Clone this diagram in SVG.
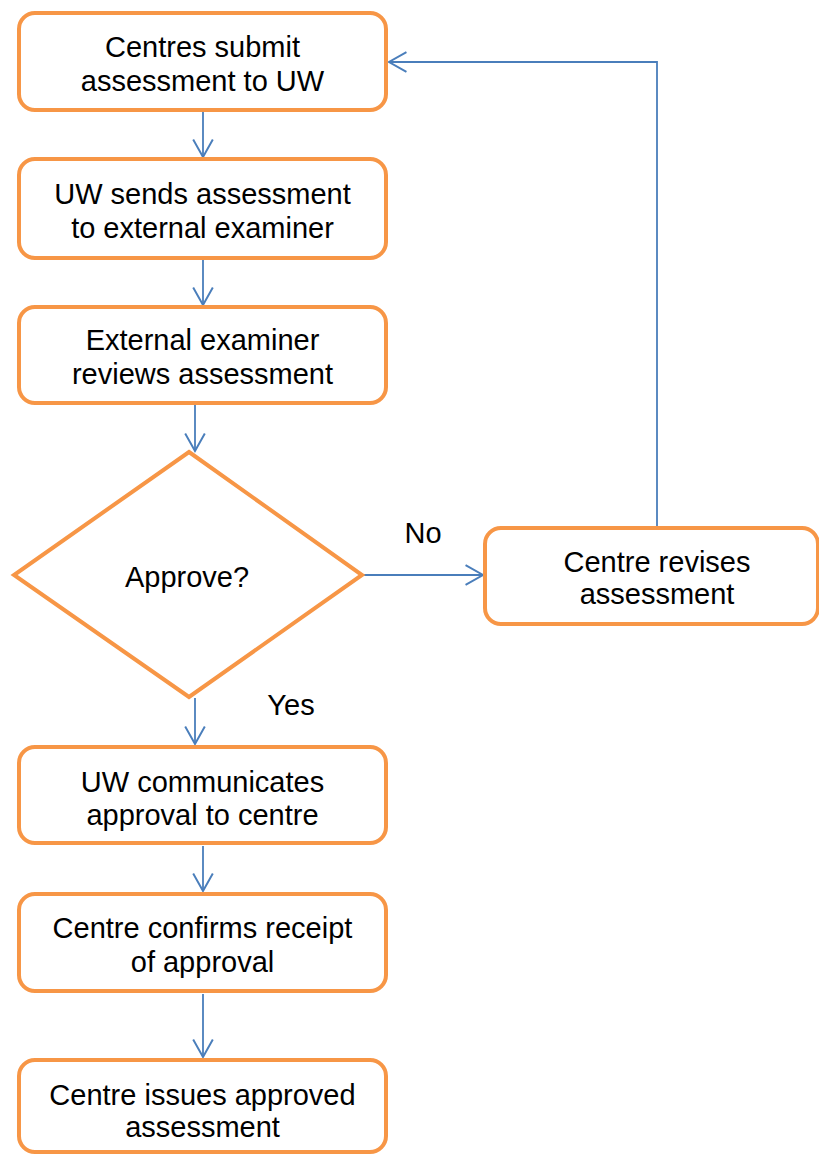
<svg xmlns="http://www.w3.org/2000/svg" width="819" height="1155" viewBox="0 0 819 1155">
<style>
.box{fill:#fff;stroke:#F79646;stroke-width:4}
.t{font-family:"Liberation Sans",Arial,sans-serif;font-size:29px;fill:#000;text-anchor:middle}
.c{fill:none;stroke:#4A7EBB;stroke-width:1.8}
</style>
<defs>
<marker id="ah" markerUnits="userSpaceOnUse" markerWidth="24" markerHeight="24" viewBox="-18 -11 20 22" refX="0" refY="0" orient="auto">
<path d="M-16,-9 L0,0 L-16,9" fill="none" stroke="#4A7EBB" stroke-width="1.8"/>
</marker>
</defs>
<rect width="819" height="1155" fill="#fff"/>
<g id="connectors">
<line class="c" x1="203" y1="112" x2="203" y2="157" marker-end="url(#ah)"/>
<line class="c" x1="203" y1="260" x2="203" y2="305" marker-end="url(#ah)"/>
<line class="c" x1="195" y1="405" x2="195" y2="451" marker-end="url(#ah)"/>
<line class="c" x1="195" y1="698" x2="195" y2="744" marker-end="url(#ah)"/>
<line class="c" x1="203" y1="846" x2="203" y2="891" marker-end="url(#ah)"/>
<line class="c" x1="203" y1="994" x2="203" y2="1057" marker-end="url(#ah)"/>
<line class="c" x1="363" y1="575" x2="483" y2="575" marker-end="url(#ah)"/>
<polyline class="c" points="657,526 657,62 389,62" marker-end="url(#ah)"/>
<text class="t" x="423" y="543">No</text>
<text class="t" x="291" y="715">Yes</text>
</g>
<g id="n1">
<rect class="box" x="19" y="13" width="367" height="97" rx="16"/>
<text class="t" x="202.5" y="57">Centres submit</text>
<text class="t" x="202.5" y="91">assessment to UW</text>
</g>
<g id="n2">
<rect class="box" x="19" y="159" width="367" height="99" rx="16"/>
<text class="t" x="202.5" y="204">UW sends assessment</text>
<text class="t" x="202.5" y="238">to external examiner</text>
</g>
<g id="n3">
<rect class="box" x="19" y="307" width="367" height="96" rx="16"/>
<text class="t" x="202.5" y="350">External examiner</text>
<text class="t" x="202.5" y="384">reviews assessment</text>
</g>
<g id="n4">
<polygon class="box" points="189,452 362,575 189,697 14,575"/>
<text class="t" x="187" y="587">Approve?</text>
</g>
<g id="n5">
<rect class="box" x="485" y="528" width="333" height="96" rx="16"/>
<text class="t" x="657" y="572">Centre revises</text>
<text class="t" x="657" y="604">assessment</text>
</g>
<g id="n6">
<rect class="box" x="19" y="747" width="367" height="96" rx="16"/>
<text class="t" x="202.5" y="792">UW communicates</text>
<text class="t" x="202.5" y="825">approval to centre</text>
</g>
<g id="n7">
<rect class="box" x="19" y="894" width="367" height="97" rx="16"/>
<text class="t" x="202.5" y="938">Centre confirms receipt</text>
<text class="t" x="202.5" y="972">of approval</text>
</g>
<g id="n8">
<rect class="box" x="19" y="1060" width="367" height="92" rx="16"/>
<text class="t" x="202.5" y="1105">Centre issues approved</text>
<text class="t" x="202.5" y="1137">assessment</text>
</g>
</svg>
